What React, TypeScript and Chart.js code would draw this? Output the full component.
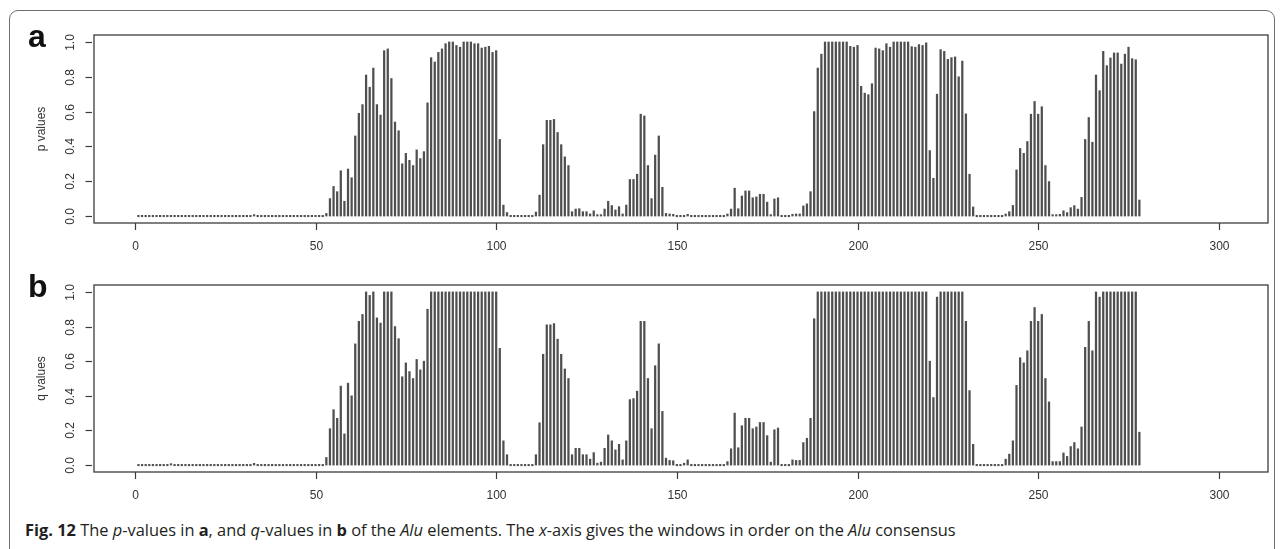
import React, { useEffect, useRef } from 'react';
import { Chart, registerables } from 'chart.js';
Chart.register(...registerables);

// window index on the Alu consensus (1..278)
const windows: number[] = Array.from({ length: 278 }, (_, i) => i + 1);

const pValues: number[] = [
  0, 0, 0, 0, 0, 0, 0, 0, 0, 0,
  0, 0, 0, 0, 0, 0, 0, 0, 0, 0,
  0, 0, 0, 0, 0, 0, 0, 0, 0, 0,
  0, 0, 0.004, 0, 0, 0, 0, 0, 0, 0,
  0, 0, 0, 0, 0, 0, 0, 0, 0, 0,
  0, 0, 0.015, 0.10, 0.17, 0.14, 0.26, 0.085, 0.27, 0.22,
  0.46, 0.59, 0.64, 0.81, 0.74, 0.85, 0.64, 0.58, 0.95, 0.96,
  0.79, 0.54, 0.49, 0.30, 0.36, 0.32, 0.29, 0.38, 0.33, 0.37,
  0.65, 0.91, 0.885, 0.94, 0.96, 0.99, 1.0, 1.0, 0.98, 0.97,
  1.0, 1.0, 1.0, 0.99, 0.99, 0.965, 0.97, 0.975, 0.94, 0.95,
  0.44, 0.063, 0.02, 0, 0, 0, 0, 0, 0, 0,
  0.023, 0.12, 0.41, 0.55, 0.55, 0.555, 0.48, 0.41, 0.34, 0.29,
  0.025, 0.04, 0.042, 0.025, 0.025, 0.012, 0.03, 0.002, 0.004, 0.04,
  0.085, 0.06, 0.035, 0.054, 0.012, 0.063, 0.21, 0.21, 0.24, 0.585,
  0.575, 0.29, 0.10, 0.35, 0.46, 0.165, 0.015, 0.012, 0.01, 0,
  0, 0, 0.01, 0, 0, 0, 0, 0, 0, 0,
  0, 0, 0, 0.012, 0.04, 0.16, 0.042, 0.115, 0.144, 0.144,
  0.105, 0.11, 0.125, 0.125, 0.08, 0.006, 0.098, 0.105, 0, 0,
  0, 0.01, 0.012, 0.012, 0.058, 0.07, 0.14, 0.60, 0.85, 0.93,
  1.0, 1.0, 1.0, 1.0, 1.0, 1.0, 1.0, 0.975, 0.97, 0.98,
  0.745, 0.706, 0.697, 0.76, 0.965, 0.96, 0.95, 0.99, 0.97, 1.0,
  1.0, 1.0, 1.0, 1.0, 0.973, 0.97, 0.985, 0.98, 0.995, 0.376,
  0.217, 0.70, 0.956, 0.946, 0.90, 0.91, 0.914, 0.80, 0.89, 0.587,
  0.24, 0.052, 0, 0, 0, 0, 0, 0, 0, 0,
  0.012, 0.025, 0.061, 0.265, 0.388, 0.36, 0.428, 0.585, 0.658, 0.585,
  0.628, 0.29, 0.198, 0.006, 0.006, 0.01, 0.03, 0.02, 0.048, 0.06,
  0.04, 0.107, 0.44, 0.566, 0.424, 0.81, 0.72, 0.946, 0.864, 0.908,
  0.937, 0.937, 0.873, 0.93, 0.97, 0.904, 0.898, 0.092,
];

const qValues: number[] = [
  0, 0, 0, 0, 0, 0, 0, 0, 0, 0.006,
  0, 0, 0, 0, 0, 0, 0, 0, 0, 0,
  0, 0, 0, 0, 0, 0, 0, 0, 0, 0,
  0, 0, 0.01, 0, 0, 0, 0, 0, 0, 0,
  0, 0, 0, 0, 0, 0, 0, 0, 0, 0,
  0, 0, 0.044, 0.21, 0.32, 0.27, 0.456, 0.18, 0.473, 0.40,
  0.70, 0.83, 0.87, 1.0, 0.98, 1.0, 0.85, 0.82, 1.0, 1.0,
  1.0, 0.80, 0.73, 0.51, 0.59, 0.54, 0.50, 0.61, 0.55, 0.60,
  0.90, 1.0, 1.0, 1.0, 1.0, 1.0, 1.0, 1.0, 1.0, 1.0,
  1.0, 1.0, 1.0, 1.0, 1.0, 1.0, 1.0, 1.0, 1.0, 1.0,
  0.674, 0.14, 0.06, 0, 0, 0, 0, 0, 0, 0,
  0.06, 0.244, 0.64, 0.81, 0.81, 0.817, 0.727, 0.64, 0.555, 0.50,
  0.06, 0.097, 0.097, 0.06, 0.06, 0.034, 0.072, 0.011, 0.017, 0.097,
  0.174, 0.14, 0.088, 0.12, 0.03, 0.14, 0.378, 0.384, 0.427, 0.83,
  0.83, 0.50, 0.21, 0.574, 0.70, 0.31, 0.04, 0.027, 0.025, 0,
  0, 0.011, 0.03, 0, 0, 0, 0, 0, 0, 0,
  0, 0, 0, 0.02, 0.094, 0.30, 0.10, 0.227, 0.27, 0.27,
  0.21, 0.22, 0.246, 0.246, 0.17, 0.017, 0.204, 0.214, 0, 0,
  0, 0.03, 0.027, 0.027, 0.13, 0.155, 0.27, 0.845, 1.0, 1.0,
  1.0, 1.0, 1.0, 1.0, 1.0, 1.0, 1.0, 1.0, 1.0, 1.0,
  1.0, 1.0, 1.0, 1.0, 1.0, 1.0, 1.0, 1.0, 1.0, 1.0,
  1.0, 1.0, 1.0, 1.0, 1.0, 1.0, 1.0, 1.0, 1.0, 0.60,
  0.39, 0.97, 1.0, 1.0, 1.0, 1.0, 1.0, 1.0, 1.0, 0.83,
  0.43, 0.12, 0, 0, 0, 0, 0, 0, 0, 0,
  0.034, 0.063, 0.14, 0.46, 0.62, 0.59, 0.66, 0.83, 0.91, 0.83,
  0.87, 0.50, 0.365, 0.02, 0.02, 0.02, 0.07, 0.05, 0.107, 0.13,
  0.094, 0.22, 0.68, 0.83, 0.66, 1.0, 0.97, 1.0, 1.0, 1.0,
  1.0, 1.0, 1.0, 1.0, 1.0, 1.0, 1.0, 0.19,
];

const xTicks: number[] = [0, 50, 100, 150, 200, 250, 300];
const yTicks: number[] = [0, 0.2, 0.4, 0.6, 0.8, 1.0];
const yTickLabels: string[] = ['0.0', '0.2', '0.4', '0.6', '0.8', '1.0'];

const AXIS_FONT = '12px "Liberation Sans", Arial, Helvetica, sans-serif';
const INK = '#333333';

const rAxesPlugin = {
  id: 'rAxes',
  afterDatasetsDraw(chart: any, _args: any, opts: any) {
    const { ctx, chartArea: a, scales } = chart;
    const x = scales.x;
    const y = scales.y;
    ctx.save();
    ctx.strokeStyle = '#3c3c3c';
    ctx.lineWidth = 1.3;
    ctx.strokeRect(a.left, a.top, a.right - a.left, a.bottom - a.top);

    ctx.fillStyle = INK;
    ctx.font = AXIS_FONT;
    ctx.textAlign = 'center';
    ctx.textBaseline = 'middle';
    ctx.lineWidth = 1.2;
    xTicks.forEach((v) => {
      const px = Math.round(x.getPixelForValue(v)) + 0.5;
      ctx.beginPath();
      ctx.moveTo(px, a.bottom);
      ctx.lineTo(px, a.bottom + 7);
      ctx.stroke();
      ctx.fillText(String(v), px, a.bottom + 24);
    });
    yTicks.forEach((v, i) => {
      const py = Math.round(y.getPixelForValue(v)) + 0.5;
      ctx.beginPath();
      ctx.moveTo(a.left - 8.5, py);
      ctx.lineTo(a.left - 2, py);
      ctx.stroke();
      ctx.save();
      ctx.translate(a.left - 23.6, py);
      ctx.rotate(-Math.PI / 2);
      ctx.fillText(yTickLabels[i], 0, 0);
      ctx.restore();
    });
    const mid = (y.getPixelForValue(0) + y.getPixelForValue(1)) / 2;
    ctx.save();
    ctx.translate(a.left - 52.6, mid);
    ctx.rotate(-Math.PI / 2);
    ctx.fillText(opts.title, 0, 0);
    ctx.restore();
    ctx.restore();
  },
};

function Panel(props: { values: number[]; title: string; top: number; height: number; padTop: number; padBottom: number }) {
  const ref = useRef<HTMLCanvasElement>(null);
  useEffect(() => {
    const chart = new Chart(ref.current as HTMLCanvasElement, {
      type: 'bar',
      data: {
        datasets: [
          {
            data: windows.map((w, i) => ({ x: w, y: props.values[i] })),
            backgroundColor: '#4f4f4f',
            borderWidth: 0,
            barThickness: 1.6,
            minBarLength: 1.4,
            grouped: false,
          } as any,
        ],
      },
      options: {
        responsive: false,
        maintainAspectRatio: false,
        animation: false,
        devicePixelRatio: 1,
        layout: { padding: { left: 94, right: 16, top: props.padTop, bottom: props.padBottom } },
        scales: {
          x: { type: 'linear', min: -11.3, max: 313.6, display: false, offset: false },
          y: { type: 'linear', min: -0.04, max: 1.04, display: false },
        },
        plugins: {
          legend: { display: false },
          tooltip: { enabled: false },
          rAxes: { title: props.title },
        } as any,
      },
      plugins: [rAxesPlugin],
    });
    return () => chart.destroy();
  }, []);
  return (
    <canvas
      ref={ref}
      width={1284}
      height={props.height}
      style={{ position: 'absolute', left: 0, top: props.top, width: 1284, height: props.height }}
    />
  );
}

const panelLabel: React.CSSProperties = {
  position: 'absolute',
  font: 'bold 32px "Liberation Sans", Arial, Helvetica, sans-serif',
  lineHeight: '32px',
  color: '#111',
};

export default function App() {
  return (
    <div style={{ position: 'absolute', left: 0, top: 0, width: 1284, height: 549, overflow: 'hidden', background: '#fff' }}>
      <div
        style={{
          position: 'absolute',
          left: 9,
          top: 10,
          width: 1266,
          height: 600,
          border: '1px solid #6e6e6e',
          borderRadius: 9,
          boxSizing: 'border-box',
        }}
      />
      <Panel values={pValues} title="p values" top={0} height={262} padTop={35} padBottom={39} />
      <Panel values={qValues} title="q values" top={262} height={250} padTop={23} padBottom={40} />
      <div style={{ ...panelLabel, left: 28, top: 20 }}>a</div>
      <div style={{ ...panelLabel, left: 28, top: 270 }}>b</div>
      <div
        style={{
          position: 'absolute',
          left: 25,
          top: 520,
          font: '16.4px "Open Sans", "Noto Sans", sans-serif',
          lineHeight: '20px',
          color: '#231f20',
          whiteSpace: 'nowrap',
        }}
      >
        <b>Fig. 12</b> The <i>p</i>-values in <b>a</b>, and <i>q</i>-values in <b>b</b> of the <i>Alu</i> elements. The{' '}
        <i>x</i>-axis gives the windows in order on the <i>Alu</i> consensus
      </div>
    </div>
  );
}
